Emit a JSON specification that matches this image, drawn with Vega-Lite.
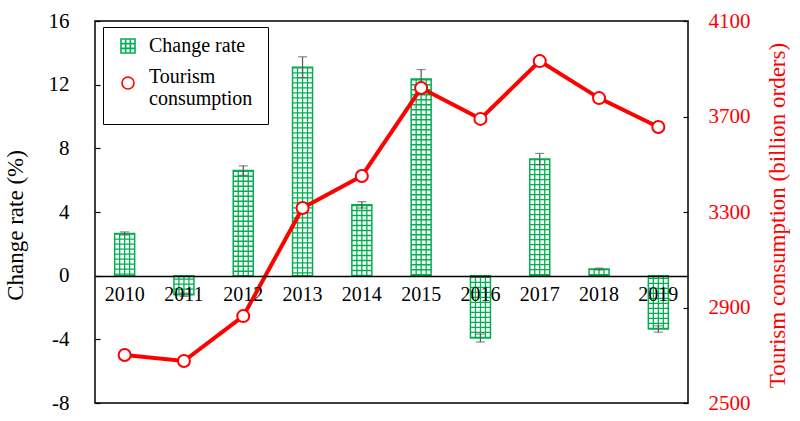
{
  "$schema": "https://vega.github.io/schema/vega-lite/v6.json",
  "width": 593,
  "height": 382,
  "autosize": "none",
  "padding": {"left": 95, "top": 21, "right": 112, "bottom": 18},
  "background": "white",
  "config": {
    "font": "Liberation Serif",
    "view": {"stroke": "black", "strokeWidth": 1.5},
    "axis": {"labelFont": "Liberation Serif", "titleFont": "Liberation Serif", "grid": false},
    "legend": {"labelFont": "Liberation Serif"}
  },
  "data": {
    "values": [
      {"year": "2010", "rate": 2.65, "lo": 2.55, "hi": 2.75, "cons": 2701},
      {"year": "2011", "rate": -1.2, "lo": -1.3, "hi": -1.1, "cons": 2676},
      {"year": "2012", "rate": 6.6, "lo": 6.3, "hi": 6.9, "cons": 2864},
      {"year": "2013", "rate": 13.1, "lo": 12.45, "hi": 13.75, "cons": 3317},
      {"year": "2014", "rate": 4.45, "lo": 4.25, "hi": 4.65, "cons": 3451},
      {"year": "2015", "rate": 12.35, "lo": 11.75, "hi": 12.95, "cons": 3819},
      {"year": "2016", "rate": -3.92, "lo": -4.17, "hi": -3.67, "cons": 3690},
      {"year": "2017", "rate": 7.33, "lo": 6.98, "hi": 7.68, "cons": 3932},
      {"year": "2018", "rate": 0.42, "lo": 0.37, "hi": 0.47, "cons": 3777},
      {"year": "2019", "rate": -3.35, "lo": -3.55, "hi": -3.15, "cons": 3656}
    ]
  },
  "encoding": {
    "x": {
      "field": "year",
      "type": "ordinal",
      "scale": {"paddingInner": 0, "paddingOuter": 0},
      "axis": {
        "orient": "bottom",
        "offset": -127,
        "ticks": false,
        "domain": true,
        "domainColor": "black",
        "domainWidth": 1.5,
        "labelAngle": 0,
        "labelFont": "Liberation Serif",
        "labelFontSize": 20,
        "labelColor": "black",
        "labelPadding": 8,
        "title": null,
        "zindex": 2
      }
    }
  },
  "layer": [
    {
      "layer": [
        {
          "mark": {"type": "bar", "size": 20, "fill": "white", "strokeWidth": 1.5},
          "encoding": {
            "y": {
              "field": "rate",
              "type": "quantitative",
              "title": "Change rate (%)",
              "scale": {"domain": [-8, 16], "nice": false, "zero": false},
              "axis": {
                "orient": "left",
                "values": [-8, -4, 0, 4, 8, 12, 16],
                "labelExpr": "'' + datum.value",
                "domain": false,
                "tickSize": -5,
                "tickColor": "black",
                "tickWidth": 1.2,
                "labelFont": "Liberation Serif",
                "labelFontSize": 21,
                "labelColor": "black",
                "labelPadding": 31,
                "titleFont": "Liberation Serif",
                "titleFontSize": 23,
                "titleFontWeight": "normal",
                "titleColor": "black",
                "titlePadding": 21,
                "titleY": 204
              }
            },
            "stroke": {
              "datum": "Change rate",
              "scale": {"domain": ["Change rate", "Tourism consumption"], "range": ["#00b050", "#ff0000"]},
              "legend": {
                "orient": "none",
                "legendX": 8,
                "legendY": 6,
                "title": null,
                "strokeColor": "black",
                "padding": 15,
                "symbolSize": 144,
                "symbolFillColor": "white",
                "symbolStrokeWidth": 1.6,
                "labelFont": "Liberation Serif",
                "labelFontSize": 20,
                "labelColor": "black",
                "labelOffset": 11,
                "labelBaseline": "alphabetic",
                "rowPadding": 10,
                "labelExpr": "datum.label == 'Tourism consumption' ? ['Tourism', 'consumption'] : datum.label"
              }
            }
          }
        },
        {
          "mark": {"type": "rule", "color": "#00b050", "strokeWidth": 1.3, "xOffset": -5},
          "encoding": {"y": {"field": "rate", "type": "quantitative"}, "y2": {"datum": 0}}
        },
        {
          "mark": {"type": "rule", "color": "#00b050", "strokeWidth": 1.3, "xOffset": 0},
          "encoding": {"y": {"field": "rate", "type": "quantitative"}, "y2": {"datum": 0}}
        },
        {
          "mark": {"type": "rule", "color": "#00b050", "strokeWidth": 1.3, "xOffset": 5},
          "encoding": {"y": {"field": "rate", "type": "quantitative"}, "y2": {"datum": 0}}
        },
        {
          "mark": {"type": "rule", "color": "#00b050", "strokeWidth": 20, "strokeDash": [1.3, 3.7]},
          "encoding": {"y": {"field": "rate", "type": "quantitative"}, "y2": {"datum": 0}}
        },
        {
          "mark": {"type": "rule", "color": "#595959", "strokeWidth": 1.2},
          "encoding": {"y": {"field": "lo", "type": "quantitative"}, "y2": {"field": "hi"}}
        },
        {
          "mark": {"type": "tick", "color": "#595959", "size": 9, "thickness": 1.2},
          "encoding": {"y": {"field": "hi", "type": "quantitative"}}
        },
        {
          "mark": {"type": "tick", "color": "#595959", "size": 9, "thickness": 1.2},
          "encoding": {"y": {"field": "lo", "type": "quantitative"}}
        }
      ]
    },
    {
      "layer": [
        {
          "mark": {"type": "line", "strokeWidth": 4, "stroke": "#ff0000"},
          "encoding": {
            "y": {
              "field": "cons",
              "type": "quantitative",
              "title": "Tourism consumption (billion orders)",
              "scale": {"domain": [2500, 4100], "nice": false, "zero": false},
              "axis": {
                "orient": "right",
                "values": [2500, 2900, 3300, 3700, 4100],
                "format": "d",
                "domain": false,
                "tickSize": -5,
                "tickColor": "black",
                "tickWidth": 1.2,
                "labelFont": "Liberation Serif",
                "labelFontSize": 21,
                "labelColor": "#ff0000",
                "labelPadding": 25,
                "titleFont": "Liberation Serif",
                "titleFontSize": 23,
                "titleFontWeight": "normal",
                "titleColor": "#ff0000",
                "titleAngle": 270,
                "titleBaseline": "top",
                "titlePadding": 16,
                "titleY": 194
              }
            }
          }
        },
        {
          "mark": {"type": "point", "filled": true, "fill": "white", "stroke": "#ff0000", "strokeWidth": 2, "size": 144, "opacity": 1},
          "encoding": {
            "y": {"field": "cons", "type": "quantitative"},
            "shape": {
              "datum": "Tourism consumption",
              "scale": {
                "domain": ["Change rate", "Tourism consumption"],
                "range": ["M-1.17,-2.17H1.17V0.17H-1.17Z M-0.39,-2.17V0.17 M0.39,-2.17V0.17 M-1.17,-1.39H1.17 M-1.17,-0.61H1.17", "circle"]
              },
              "legend": {
                "orient": "none",
                "legendX": 8,
                "legendY": 6,
                "title": null,
                "strokeColor": "black",
                "padding": 15,
                "symbolSize": 144,
                "symbolFillColor": "white",
                "symbolStrokeWidth": 1.6,
                "labelFont": "Liberation Serif",
                "labelFontSize": 20,
                "labelColor": "black",
                "labelOffset": 11,
                "labelBaseline": "alphabetic",
                "rowPadding": 10,
                "labelExpr": "datum.label == 'Tourism consumption' ? ['Tourism', 'consumption'] : datum.label"
              }
            }
          }
        }
      ]
    }
  ],
  "resolve": {"scale": {"y": "independent"}, "axis": {"y": "independent"}}
}
